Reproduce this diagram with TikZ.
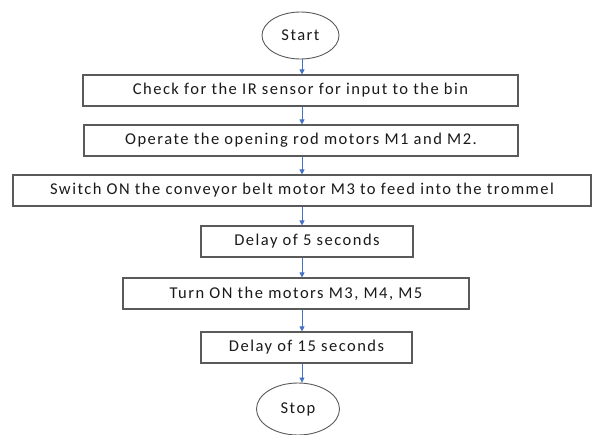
\documentclass[tikz,border=0pt]{standalone}
\usepackage{fontspec}
\setmainfont{Carlito}[LetterSpace=9]
\usetikzlibrary{shapes.geometric,arrows.meta}
\definecolor{flowblue}{HTML}{4472C4}
\definecolor{edgegray}{HTML}{5A5A5A}
\definecolor{ink}{HTML}{1A1A1A}
\tikzset{
  stepbox/.style={draw=edgegray, line width=1.1pt, fill=white, rectangle,
    minimum height=31pt, inner sep=0pt, text=ink, font=\fontsize{16.5}{19}\selectfont},
  terminal/.style={draw=edgegray, line width=0.9pt, fill=white, ellipse,
    inner sep=0pt, text=ink, font=\fontsize{16.5}{19}\selectfont},
  flowarrow/.style={draw=flowblue, line width=0.8pt,
    -{Triangle[length=5pt,width=5pt]}}
}
\begin{document}
\begin{tikzpicture}[x=1pt,y=-1pt]
  \useasboundingbox (0,0) rectangle (592,434);
  \coordinate (axis) at (302,0);

  \node[terminal, minimum width=77pt, minimum height=47pt] (start) at (300.5,35.5) {Start};
  \node[stepbox, minimum width=435pt] (s1) at (300.5,90.5) {Check for the IR sensor for input to the bin};
  \node[stepbox, minimum width=434pt] (s2) at (301,140.5) {Operate the opening rod motors M1 and M2.};
  \node[stepbox, minimum width=578pt] (s3) at (302,190.5) {Switch ON the conveyor belt motor M3 to feed into the trommel};
  \node[stepbox, minimum width=212pt] (s4) at (307,241.5) {Delay of 5 seconds};
  \node[stepbox, minimum width=346pt] (s5) at (296,293.5) {Turn ON the motors M3, M4, M5};
  \node[stepbox, minimum width=211pt] (s6) at (306.5,347.5) {Delay of 15 seconds};
  \node[terminal, minimum width=83pt, minimum height=52pt] (stop) at (298,409) {Stop};

  \draw[flowarrow] (start.south -| axis) -- (s1.north -| axis);
  \draw[flowarrow] (s1.south -| axis) -- (s2.north -| axis);
  \draw[flowarrow] (s2.south -| axis) -- (s3.north -| axis);
  \draw[flowarrow] (s3.south -| axis) -- (s4.north -| axis);
  \draw[flowarrow] (s4.south -| axis) -- (s5.north -| axis);
  \draw[flowarrow] (s5.south -| axis) -- (s6.north -| axis);
  \draw[flowarrow] (s6.south -| axis) -- (stop.north -| axis);
\end{tikzpicture}
\end{document}
